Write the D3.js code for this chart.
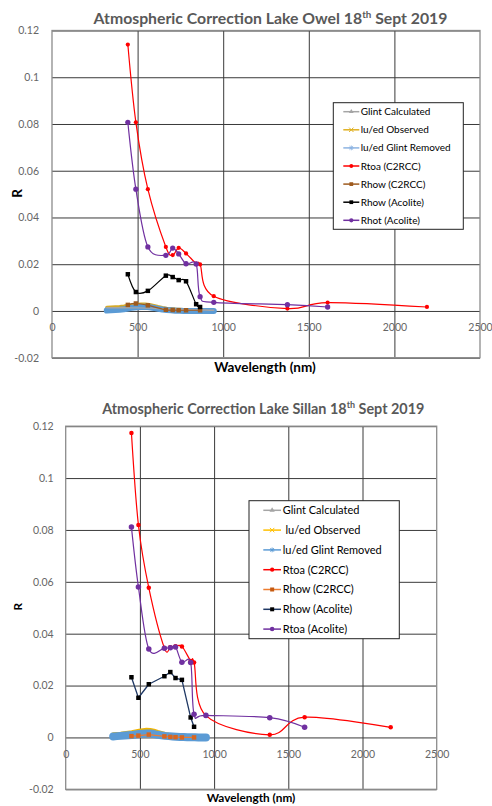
<!DOCTYPE html>
<html>
<head>
<meta charset="utf-8">
<script src="https://cdn.jsdelivr.net/npm/d3@7"></script>
<style>
  body { margin: 0; background: #fff; }
  svg { display: block; font-family: Lato, "Open Sans", sans-serif; }
  .lgtext { white-space: pre; }
</style>
</head>
<body>
<svg id="chart" width="492" height="806"></svg>
<script>
// ---- shared axis values ----
var xTicks = [0, 500, 1000, 1500, 2000, 2500];
var yTicks = [-0.02, 0, 0.02, 0.04, 0.06, 0.08, 0.1, 0.12];

// ---- hyperspectral (in-situ) wavelengths ----
var hsWl = [320, 345, 370, 395, 420, 445, 470, 495, 520, 545, 570, 595, 620,
            645, 670, 695, 720, 745, 770, 795, 820, 845, 870, 895, 920, 945];

// ---- Lake Owel ----
var owelNames = ["Glint Calculated", "lu/ed Observed", "lu/ed Glint Removed",
                 "Rtoa (C2RCC)", "Rhow (C2RCC)", "Rhow (Acolite)", "Rhot (Acolite)"];
var owelGlint = [0.0014, 0.0014, 0.0014, 0.0014, 0.0014, 0.0014, 0.0013, 0.0013, 0.0013, 0.0012, 0.0012, 0.0011, 0.0010,
                 0.0009, 0.0008, 0.0007, 0.0007, 0.0006, 0.0006, 0.0005, 0.0005, 0.0004, 0.0004, 0.0004, 0.0003, 0.0003];
var owelObserved = [0.0016, 0.0017, 0.0018, 0.0019, 0.0021, 0.0024, 0.0027, 0.0029, 0.0030, 0.0030, 0.0028, 0.0024, 0.0019,
                    0.0015, 0.0012, 0.0010, 0.0008, 0.0007, 0.0006, 0.0005, 0.0004, 0.0004, 0.0003, 0.0003, 0.0003, 0.0003];
var owelRemoved = [0.0002, 0.0003, 0.0004, 0.0005, 0.0007, 0.0010, 0.0014, 0.0016, 0.0017, 0.0018, 0.0016, 0.0013, 0.0009,
                   0.0006, 0.0004, 0.0003, 0.0001, 0.0001, 0.0000, 0.0000, 0.0000, 0.0000, 0.0000, 0.0000, 0.0000, 0.0000];
var owelRtoaWl = [443, 490, 560, 665, 705, 740, 783, 842, 865, 945, 1375, 1610, 2190];
var owelRtoa = [0.114, 0.0807, 0.0521, 0.0274, 0.0239, 0.0270, 0.0246, 0.0203, 0.0199, 0.0063, 0.0010, 0.0036, 0.0017];
var owelRhowC2Wl = [443, 490, 560, 665, 705, 740, 783, 865];
var owelRhowC2 = [0.0026, 0.0032, 0.0024, 0.0005, 0.0004, 0.0003, 0.0003, 0.0003];
var owelRhowAcWl = [443, 490, 560, 665, 705, 740, 783, 842, 865];
var owelRhowAc = [0.0157, 0.0081, 0.0086, 0.0151, 0.0145, 0.0132, 0.0127, 0.0029, 0.0017];
var owelRhotWl = [443, 490, 560, 665, 705, 740, 783, 842, 865, 945, 1375, 1610];
var owelRhot = [0.0807, 0.0521, 0.0274, 0.0238, 0.0269, 0.0244, 0.0202, 0.0201, 0.0061, 0.0037, 0.0027, 0.0017];

// ---- Lake Sillan ----
var sillanNames = ["Glint Calculated", " lu/ed Observed", "lu/ed Glint Removed",
                   "Rtoa (C2RCC)", "Rhow (C2RCC)", "Rhow (Acolite)", "Rtoa (Acolite)"];
var sillanGlint = [0.0009, 0.0009, 0.0009, 0.0010, 0.0011, 0.0012, 0.0013, 0.0014, 0.0015, 0.0016, 0.0015, 0.0014, 0.0012,
                   0.0010, 0.0008, 0.0006, 0.0005, 0.0004, 0.0004, 0.0003, 0.0003, 0.0003, 0.0002, 0.0002, 0.0002, 0.0002];
var sillanObserved = [0.0013, 0.0014, 0.0015, 0.0017, 0.0019, 0.0021, 0.0024, 0.0027, 0.0029, 0.0031, 0.0030, 0.0027, 0.0022,
                      0.0018, 0.0014, 0.0011, 0.0009, 0.0007, 0.0006, 0.0005, 0.0004, 0.0004, 0.0003, 0.0003, 0.0002, 0.0002];
var sillanRemoved = [0.0004, 0.0005, 0.0006, 0.0007, 0.0008, 0.0009, 0.0011, 0.0013, 0.0014, 0.0015, 0.0015, 0.0013, 0.0010,
                     0.0008, 0.0006, 0.0005, 0.0004, 0.0003, 0.0002, 0.0002, 0.0001, 0.0001, 0.0001, 0.0000, 0.0000, 0.0000];
var sillanRtoaWl = [443, 490, 560, 665, 705, 740, 783, 842, 865, 945, 1375, 1610, 2190];
var sillanRtoa = [0.1174, 0.0819, 0.0577, 0.0345, 0.0348, 0.0352, 0.0351, 0.0295, 0.0289, 0.0084, 0.0010, 0.0078, 0.0039];
var sillanRhowC2Wl = [443, 490, 560, 665, 705, 740, 783, 865];
var sillanRhowC2 = [0.0005, 0.0007, 0.0011, 0.0004, 0.0002, 0.0001, 0.0000, 0.0000];
var sillanRhowAcWl = [443, 490, 560, 665, 705, 740, 783, 842, 865];
var sillanRhowAc = [0.0232, 0.0153, 0.0205, 0.0236, 0.0252, 0.0229, 0.0222, 0.0077, 0.0041];
var sillanRtoaAcWl = [443, 490, 560, 665, 705, 740, 783, 842, 865, 945, 1375, 1610];
var sillanRtoaAc = [0.0811, 0.0580, 0.0341, 0.0344, 0.0346, 0.0349, 0.0290, 0.0289, 0.0089, 0.0085, 0.0076, 0.0039];

function pairs(xs, ys) { return xs.map((x, i) => [x, ys[i]]); }

var svg = d3.select("#chart");
var smooth = d3.curveCardinal.tension(0);

function drawChart(c) {
    var g = svg.append("g");
    var x = d3.scaleLinear().domain([0, 2500]).range([c.left, c.right]);
    var y = d3.scaleLinear().domain([-0.02, 0.12]).range([c.bottom, c.top]);
    var w = c.right - c.left, h = c.bottom - c.top;

    // title
    var t = g.append("text").attr("x", c.titleX).attr("y", c.titleY)
        .attr("text-anchor", "middle").attr("font-weight", "bold")
        .attr("font-size", c.titleSize).attr("fill", "#595959");
    t.append("tspan").text(c.titleA);
    t.append("tspan").attr("font-size", c.titleSize * 0.62).attr("dy", -6).text("th");
    t.append("tspan").attr("dy", 6).text(" Sept 2019");

    // gridlines
    g.append("g").attr("transform", "translate(0," + c.bottom + ")")
        .call(d3.axisBottom(x).tickValues(xTicks.slice(1, -1)).tickSize(-h).tickFormat(""))
        .call(a => a.select(".domain").remove())
        .selectAll("line").attr("stroke", "#3a3a3a");
    g.append("g").attr("transform", "translate(" + c.left + ",0)")
        .call(d3.axisLeft(y).tickValues(yTicks).tickSize(-w).tickFormat(""))
        .call(a => a.select(".domain").remove())
        .selectAll("line").attr("stroke", "#3a3a3a");
    // plot border
    g.append("rect").attr("x", c.left).attr("y", c.top).attr("width", w).attr("height", h)
        .attr("fill", "none").attr("stroke", "#8c8c8c").attr("stroke-width", 1.3);

    // y tick labels
    g.append("g").attr("transform", "translate(" + (c.left - 4) + ",0)")
        .call(d3.axisLeft(y).tickValues(yTicks).tickSize(0).tickPadding(c.yPad)
            .tickFormat(d => String(+d.toFixed(2))))
        .call(a => a.select(".domain").remove())
        .selectAll("text").attr("font-size", c.tickSize).attr("fill", "#666")
        .attr("font-family", "Lato, sans-serif");
    // x tick labels (sit under the zero line)
    g.append("g").attr("transform", "translate(0," + y(0) + ")")
        .call(d3.axisBottom(x).tickValues(xTicks).tickSize(0).tickPadding(c.xPad)
            .tickFormat(d => String(d)))
        .call(a => a.select(".domain").remove())
        .selectAll("text").attr("font-size", c.tickSize).attr("fill", "#666")
        .attr("font-family", "Lato, sans-serif");

    // axis titles
    g.append("text").attr("x", c.xTitleX).attr("y", c.xTitleY).attr("text-anchor", "middle")
        .attr("font-weight", "bold").attr("font-size", c.axisSize).attr("fill", "#000")
        .text("Wavelength (nm)");
    g.append("text").attr("transform", "translate(" + c.rX + "," + c.rY + ") rotate(-90)")
        .attr("text-anchor", "middle").attr("font-weight", "bold")
        .attr("font-size", c.axisSize).text("R");

    var line = d3.line().x(d => x(d[0])).y(d => y(d[1]));

    // series
    c.series.forEach(function(s) {
        var sg = g.append("g");
        line.curve(s.curve || d3.curveLinear);
        sg.append("path").attr("d", line(s.data)).attr("fill", "none")
            .attr("stroke", s.color).attr("stroke-width", s.width)
            .attr("stroke-linejoin", "round").attr("stroke-linecap", "round");
        if (s.symbol) {
            sg.selectAll("path.m").data(s.data).enter().append("path").attr("class", "m")
                .attr("transform", d => "translate(" + x(d[0]) + "," + y(d[1]) + ")")
                .attr("d", d3.symbol(s.symbol, s.size))
                .attr("fill", s.mark || s.color);
        }
    });

    // legend
    var L = c.legend;
    var lg = g.append("g");
    lg.append("rect").attr("x", L.x).attr("y", L.y).attr("width", L.w).attr("height", L.h)
        .attr("fill", "#fff").attr("stroke", "#222").attr("stroke-width", 1);
    c.legendItems.forEach(function(s, i) {
        var yy = L.row0 + i * L.dy;
        lg.append("line").attr("x1", L.x0).attr("x2", L.x1).attr("y1", yy).attr("y2", yy)
            .attr("stroke", s.color).attr("stroke-width", 1.5);
        var mx = (L.x0 + L.x1) / 2;
        if (s.legendSym === "cross" ) {
            lg.append("path").attr("d", "M-2.2,-2.2L2.2,2.2M-2.2,2.2L2.2,-2.2")
                .attr("transform", "translate(" + mx + "," + yy + ")")
                .attr("stroke", s.color).attr("stroke-width", 1);
        } else if (s.legendSym === "star") {
            lg.append("path").attr("d", "M-2.4,0L2.4,0M0,-2.4L0,2.4M-1.8,-1.8L1.8,1.8M-1.8,1.8L1.8,-1.8")
                .attr("transform", "translate(" + mx + "," + yy + ")")
                .attr("stroke", s.color).attr("stroke-width", 0.9);
        } else {
            lg.append("path").attr("d", d3.symbol(s.legendSym, s.legendSize))
                .attr("transform", "translate(" + mx + "," + yy + ")")
                .attr("fill", s.mark || s.color);
        }
        lg.append("text").attr("class", "lgtext").attr("x", L.tx).attr("y", yy).attr("dy", "0.35em")
            .attr("font-size", L.font).attr("fill", "#000").text(c.names[i]);
    });
}

// ---- chart 1: Lake Owel ----
var owelSeries = [
    { data: pairs(hsWl, owelGlint), color: "#a5a5a5", width: 3 },
    { data: pairs(hsWl, owelObserved), color: "#d4aa2a", width: 3 },
    { data: pairs(hsWl, owelRemoved), color: "#5b9bd5", width: 6 },
    { data: pairs(hsWl, owelGlint), color: "#a5a5a5", width: 1.4 },
    { data: pairs(owelRtoaWl, owelRtoa), color: "#ff0000", width: 1.2, curve: smooth, symbol: d3.symbolCircle, size: 14 },
    { data: pairs(owelRhowC2Wl, owelRhowC2), color: "#9e5a1e", width: 1.2, curve: smooth, symbol: d3.symbolSquare, size: 20 },
    { data: pairs(owelRhowAcWl, owelRhowAc), color: "#000", width: 1.2, curve: smooth, symbol: d3.symbolSquare, size: 20 },
    { data: pairs(owelRhotWl, owelRhot), color: "#7030a0", width: 1.2, curve: smooth, symbol: d3.symbolCircle, size: 22 }
];
var owelLegend = [
    { color: "#a5a5a5", legendSym: d3.symbolTriangle, legendSize: 10 },
    { color: "#e0b020", legendSym: "cross" },
    { color: "#8db4e2", legendSym: "star" },
    { color: "#ff0000", legendSym: d3.symbolCircle, legendSize: 12 },
    { color: "#9e5a1e", legendSym: d3.symbolSquare, legendSize: 14 },
    { color: "#000", legendSym: d3.symbolSquare, legendSize: 14 },
    { color: "#7030a0", legendSym: d3.symbolCircle, legendSize: 14 }
];
drawChart({
    left: 52, right: 480, top: 30.5, bottom: 357.7,
    titleA: "Atmospheric Correction Lake Owel 18", titleX: 270.5, titleY: 24, titleSize: 15.8,
    tickSize: 10.5, yPad: 9, xPad: 13,
    xTitleX: 265, xTitleY: 372, rX: 21.5, rY: 193.5, axisSize: 13.5,
    names: owelNames, series: owelSeries, legendItems: owelLegend,
    legend: { x: 333.3, y: 102.7, w: 130, h: 126.6, row0: 111.7, dy: 18.1, x0: 343.3, x1: 359.3, tx: 360.7, font: 10 }
});

// ---- chart 2: Lake Sillan ----
var sillanSeries = [
    { data: pairs(hsWl, sillanGlint), color: "#a5a5a5", width: 3 },
    { data: pairs(hsWl, sillanObserved), color: "#f0b400", width: 3.5 },
    { data: pairs(hsWl, sillanRemoved), color: "#5b9bd5", width: 8 },
    { data: pairs(sillanRtoaWl, sillanRtoa), color: "#ff0000", width: 1.2, curve: smooth, symbol: d3.symbolCircle, size: 16 },
    { data: pairs(sillanRhowC2Wl, sillanRhowC2), color: "#ed7d31", width: 1.2, symbol: d3.symbolSquare, size: 20, mark: "#d9661f" },
    { data: pairs(sillanRhowAcWl, sillanRhowAc), color: "#1f3864", width: 1.3, symbol: d3.symbolSquare, size: 20, mark: "#000" },
    { data: pairs(sillanRtoaAcWl, sillanRtoaAc), color: "#7030a0", width: 1.2, curve: smooth, symbol: d3.symbolCircle, size: 24 }
];
var sillanLegend = [
    { color: "#a5a5a5", legendSym: d3.symbolTriangle, legendSize: 12 },
    { color: "#ffc000", legendSym: "cross" },
    { color: "#5b9bd5", legendSym: "star" },
    { color: "#ff0000", legendSym: d3.symbolCircle, legendSize: 14 },
    { color: "#ed7d31", legendSym: d3.symbolSquare, legendSize: 16, mark: "#c55a11" },
    { color: "#1f3864", legendSym: d3.symbolSquare, legendSize: 16, mark: "#000" },
    { color: "#7030a0", legendSym: d3.symbolCircle, legendSize: 16 }
];
drawChart({
    left: 65.7, right: 436.7, top: 426.2, bottom: 789.3,
    titleA: "Atmospheric Correction Lake Sillan 18", titleX: 263.3, titleY: 414, titleSize: 14.4,
    tickSize: 10.5, yPad: 8, xPad: 13,
    xTitleX: 251, xTitleY: 802, rX: 22, rY: 606.7, axisSize: 11.8,
    names: sillanNames, series: sillanSeries, legendItems: sillanLegend,
    legend: { x: 249, y: 500.7, w: 150.3, h: 138, row0: 510.3, dy: 19.8, x0: 263.3, x1: 281, tx: 282.7, font: 11 }
});
</script>
</body>
</html>
